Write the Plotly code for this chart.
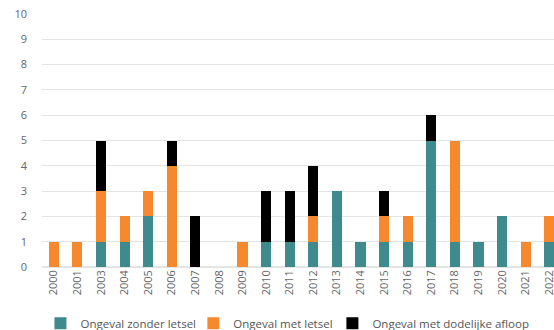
import plotly.graph_objects as go

years = ["2000", "2001", "2003", "2004", "2005", "2006", "2007", "2008", "2009", "2010", "2011",
         "2012", "2013", "2014", "2015", "2016", "2017", "2018", "2019", "2020", "2021", "2022"]
zonder_letsel = [0, 0, 1, 1, 2, 0, 0, 0, 0, 1, 1, 1, 3, 1, 1, 1, 5, 1, 1, 2, 0, 1]
met_letsel =    [1, 1, 2, 1, 1, 4, 0, 0, 1, 0, 0, 1, 0, 0, 1, 1, 0, 4, 0, 0, 1, 1]
dodelijk =      [0, 0, 2, 0, 0, 1, 2, 0, 0, 2, 2, 2, 0, 0, 1, 0, 1, 0, 0, 0, 0, 0]

series = [
    ("Ongeval zonder letsel", zonder_letsel, "#3e8a8d", "legend", 0.073),
    ("Ongeval met letsel", met_letsel, "#f6892e", "legend2", 0.349),
    ("Ongeval met dodelijke afloop", dodelijk, "#000000", "legend3", 0.600),
]

fig = go.Figure()
legend_layouts = {}
for name, vals, color, leg, lx in series:
    fig.add_trace(go.Bar(x=years, y=vals, name=name, legend=leg,
                         marker=dict(color=color, line=dict(width=0))))
    legend_layouts[leg] = dict(
        orientation="h", xref="container", x=lx, xanchor="left",
        yref="paper", y=-0.222, yanchor="middle",
        font=dict(size=11.5, color="#555555"), itemclick=False, bgcolor="rgba(0,0,0,0)",
    )

fig.update_layout(
    width=554, height=330,
    barmode="stack", bargap=0.57,
    margin=dict(l=42, r=0, t=14, b=63, autoexpand=False),
    paper_bgcolor="white", plot_bgcolor="white",
    font=dict(family="Open Sans, sans-serif", size=11, color="#666666"),
    showlegend=True,
    xaxis=dict(type="category", range=[-0.5, 21.2], tickangle=-90, showgrid=False,
               automargin=False, ticks="", showline=False,
               tickfont=dict(size=11, color="#666666")),
    yaxis=dict(range=[0, 10], dtick=1, showgrid=True, gridcolor="#e4e4e4", gridwidth=1,
               automargin=False, zeroline=True, zerolinecolor="#e4e4e4", ticks="",
               ticklabelstandoff=14, tickfont=dict(size=11, color="#666666")),
    **legend_layouts,
)

fig.write_html("out.html")
